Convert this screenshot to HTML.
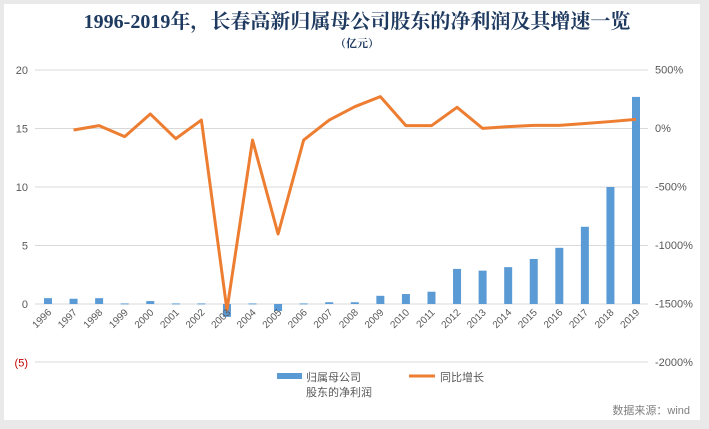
<!DOCTYPE html>
<html><head><meta charset="utf-8"><style>
body{margin:0;width:709px;height:429px;background:#e9e9e9;overflow:hidden;font-family:"Liberation Sans","Noto Sans CJK SC",sans-serif}
#frame{position:absolute;left:4px;top:4px;width:696px;height:416px;background:#fff}
svg{position:absolute;left:0;top:0}
</style></head><body>
<div id="frame"></div>
<svg width="709" height="429" id="chart"></svg>
<script>
const years=["1996","1997","1998","1999","2000","2001","2002","2003","2004","2005","2006","2007","2008","2009","2010","2011","2012","2013","2014","2015","2016","2017","2018","2019"];
const profit=[0.5,0.45,0.5,0.05,0.25,0.05,0.05,-1.1,0.05,-0.6,0.05,0.15,0.15,0.7,0.85,1.05,3.0,2.85,3.15,3.85,4.8,6.6,10.0,17.7];
const growth=[null,-17,20,-74,120,-91,68,-1555,-103,-906,-103,68,182,268,20,20,177,-3,12,22,22,38,55,74];
const leftTicks=[20,15,10,5,0,-5];
const rightTicks=[500,0,-500,-1000,-1500,-2000];
const NS="http://www.w3.org/2000/svg";
const svg=document.getElementById('chart');
function yL(v){return 304-(v/20)*234;}
function yR(v){return 128-(v/500)*58.5;}
function xS(i){return 48+i*(588/23);}
function mk(t,a,txt){const e=document.createElementNS(NS,t);for(const k in a)e.setAttribute(k,a[k]);if(txt!==undefined)e.textContent=txt;svg.appendChild(e);return e;}
let e;
e=mk('text',{x:357,y:28,'text-anchor':'middle','font-size':20,'font-weight':'bold',fill:'#1f3a60','font-family':'"Liberation Serif","Noto Serif CJK SC",serif'},'1996-2019年，长春高新归属母公司股东的净利润及其增速一览');

e=mk('text',{x:357,y:47,'text-anchor':'middle','font-size':11,'font-weight':'bold',fill:'#1f3a60','font-family':'"Liberation Serif","Noto Serif CJK SC",serif'},'（亿元）');

leftTicks.forEach(v=>{
 if(v>-5){const g=mk('line',{x1:35,x2:648,y1:yL(v),y2:yL(v),stroke:'#d9d9d9','stroke-width':1});
 }
 const t=mk('text',{x:28,y:yL(v)+4,'text-anchor':'end','font-size':11,fill:v<0?'#c00000':'#595959'},v<0?'('+(-v)+')':String(v));
 
});
e=mk('line',{x1:35,x2:648,y1:yR(-2000),y2:yR(-2000),stroke:'#d9d9d9','stroke-width':1});

rightTicks.forEach(v=>{
 const t=mk('text',{x:655,y:yR(v)+4,'font-size':11,fill:'#595959'},v+'%');
 
});
profit.forEach((v,i)=>{
 const y0=yL(0),y1=yL(v);
 const r=mk('rect',{x:xS(i)-4,y:Math.min(y0,y1),width:8,height:Math.max(1,Math.abs(y1-y0)),fill:'#5b9bd5'});
 
});
let d='';growth.forEach((v,i)=>{if(v===null)return;d+=(d?'L':'M')+xS(i)+','+yR(v);});
e=mk('path',{d:d,fill:'none',stroke:'#ed7d31','stroke-width':3,'stroke-linejoin':'round'});

years.forEach((y,i)=>{
 const x=xS(i)+4,yy=313;
 const t=mk('text',{x:x,y:yy,'text-anchor':'end','font-size':10,fill:'#595959',transform:`rotate(-45 ${x} ${yy})`},y);
 
});
e=mk('rect',{x:277,y:373,width:25,height:6,fill:'#5b9bd5'});
e=mk('text',{x:306,y:381,'font-size':11,fill:'#595959'},'归属母公司');
e=mk('text',{x:306,y:396,'font-size':11,fill:'#595959'},'股东的净利润');
e=mk('line',{x1:409,x2:435,y1:376,y2:376,stroke:'#ed7d31','stroke-width':3});
e=mk('text',{x:440,y:381,'font-size':11,fill:'#595959'},'同比增长');
e=mk('text',{x:690,y:414,'text-anchor':'end','font-size':11,fill:'#7f7f7f'},'数据来源：wind');
</script>
</body></html>
